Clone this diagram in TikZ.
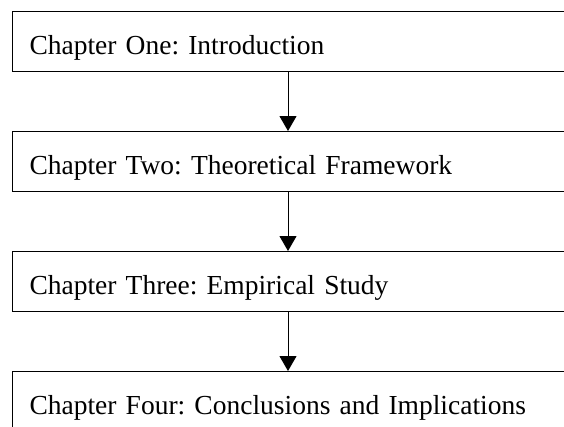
\documentclass[tikz,border=0pt]{standalone}
\usepackage{fontspec}
\setmainfont{Liberation Serif}
\usetikzlibrary{arrows.meta}

\begin{document}
\frenchspacing
\begin{tikzpicture}[x=1pt, y=1pt, font=\fontsize{27.5}{33}\selectfont]
    % Styles
    \tikzstyle{chapter box}=[draw, line width=1pt, anchor=north west, minimum height=60pt, text width=570pt, inner xsep=17pt, inner ysep=0pt, align=left, text height=26pt, text depth=0pt]
    \tikzstyle{down arrow}=[line width=1pt, -{Triangle[width=17pt,length=15pt]}]

    % --- Page frame ---
    \clip (0,0) rectangle (564,-426);

    % --- Chapters ---
    \node[chapter box] (ch1) at (12,-11) {Chapter One: Introduction};
    \node[chapter box] (ch2) at (12,-131) {Chapter Two: Theoretical Framework};
    \node[chapter box] (ch3) at (12,-251) {Chapter Three: Empirical Study};
    \node[chapter box] (ch4) at (12,-371) {Chapter Four: Conclusions and Implications};

    % Helper coordinate for the arrow column
    \coordinate (spine) at (288,0);

    % --- Arrows ---
    \draw[down arrow] (ch1.south -| spine) -- (ch2.north -| spine);
    \draw[down arrow] (ch2.south -| spine) -- (ch3.north -| spine);
    \draw[down arrow] (ch3.south -| spine) -- (ch4.north -| spine);

\end{tikzpicture}
\end{document}
